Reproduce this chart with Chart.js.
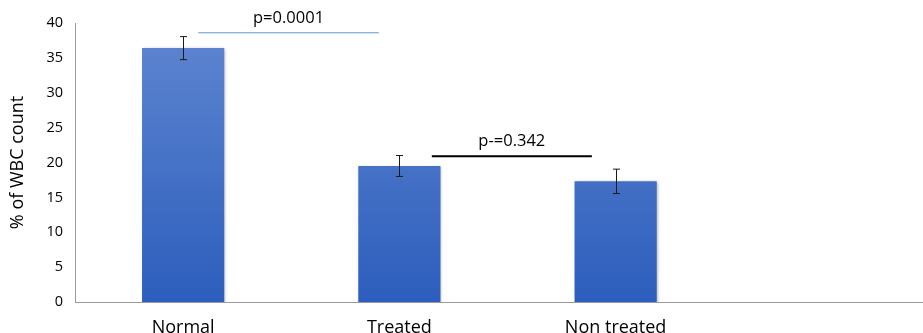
<!DOCTYPE html>
<html><head><meta charset="utf-8">
<script src="https://cdn.jsdelivr.net/npm/chart.js@4"></script>
<style>html,body{margin:0;padding:0;overflow:hidden;background:#fff;width:923px;height:333px}#wrap{width:940px;height:333px}</style>
</head><body><div id="wrap"><canvas id="c" width="940" height="333"></canvas></div>
<script>
const categories = ["Normal", "Treated", "Non treated", ""];
const values = [36.4, 19.5, 17.3, null];
const errors = [1.65, 1.5, 1.75, null];
const yTicks = [0, 5, 10, 15, 20, 25, 30, 35, 40];
const annotTexts = ["p=0.0001", "p-=0.342"];
const annotFrom = [0.07, 1.15];
const annotTo = [0.905, 1.89];
const annotLineY = [38.6, 20.9];
const annotTextY = [40.7, 23.0];
const annotColors = ["#5b9bd5", "#000000"];
const annotWidths = [1, 2];

const FONT = "'Open Sans', sans-serif";

const extras = {
  id: 'extras',
  beforeDatasetsDraw(chart) {
    const ctx = chart.ctx;
    ctx.save();
    ctx.shadowColor = 'rgba(0,0,0,0.35)';
    ctx.shadowBlur = 3;
    ctx.shadowOffsetX = 1;
    ctx.shadowOffsetY = 1;
  },
  afterDatasetsDraw(chart) {
    const ctx = chart.ctx;
    ctx.restore();
    const xs = chart.scales.x, ys = chart.scales.y;
    const meta = chart.getDatasetMeta(0);
    ctx.save();
    ctx.strokeStyle = '#1a1a1a';
    ctx.lineWidth = 1;
    values.forEach((v, i) => {
      if (v == null) return;
      const x = Math.round(meta.data[i].x) + 0.5;
      const t = ys.getPixelForValue(v + errors[i]);
      const b = ys.getPixelForValue(v - errors[i]);
      ctx.beginPath();
      ctx.moveTo(x, t); ctx.lineTo(x, b);
      ctx.moveTo(x - 3.5, t); ctx.lineTo(x + 3.5, t);
      ctx.moveTo(x - 3.5, b); ctx.lineTo(x + 3.5, b);
      ctx.stroke();
    });
    annotTexts.forEach((txt, i) => {
      const x1 = xs.getPixelForValue(annotFrom[i]);
      const x2 = xs.getPixelForValue(annotTo[i]);
      const y = ys.getPixelForValue(annotLineY[i]);
      ctx.strokeStyle = annotColors[i];
      ctx.lineWidth = annotWidths[i];
      ctx.beginPath();
      ctx.moveTo(x1, y); ctx.lineTo(x2, y);
      ctx.stroke();
      ctx.fillStyle = '#000';
      ctx.font = '16.5px ' + FONT;
      ctx.textAlign = 'center';
      ctx.textBaseline = 'middle';
      ctx.fillText(txt, (x1 + x2) / 2, ys.getPixelForValue(annotTextY[i]));
    });
    ctx.restore();
  }
};

new Chart(document.getElementById('c'), {
  type: 'bar',
  data: {
    labels: categories,
    datasets: [{
      data: values,
      backgroundColor: (c) => {
        const a = c.chart.chartArea;
        if (!a) return '#4472c4';
        const g = c.chart.ctx.createLinearGradient(0, a.top, 0, a.bottom);
        g.addColorStop(0, '#5f86d0');
        g.addColorStop(1, '#2d5ebd');
        return g;
      },
      borderWidth: 0,
      barPercentage: 0.38,
      categoryPercentage: 1
    }]
  },
  options: {
    responsive: false,
    animation: false,
    layout: { padding: { top: 23, right: 0, left: 0, bottom: 0 } },
    plugins: { legend: { display: false }, tooltip: { enabled: false } },
    scales: {
      x: {
        grid: { display: false },
        border: { display: true, color: '#9a9a9a', width: 1 },
        ticks: { color: '#000', font: { size: 18, family: FONT }, padding: 7, maxRotation: 0 },
        afterFit(s) { s.height = 31; }
      },
      y: {
        min: 0, max: 40,
        afterBuildTicks(s) { s.ticks = yTicks.map(v => ({ value: v })); },
        grid: { display: false, drawTicks: false },
        border: { display: true, color: '#9a9a9a', width: 1 },
        ticks: { color: '#000', font: { size: 14.5, family: FONT }, padding: 12 },
        title: { display: true, text: '% of WBC count', color: '#000', font: { size: 18, family: FONT }, padding: { top: 7, bottom: 0 } },
        afterFit(s) { s.width = 75; }
      }
    }
  },
  plugins: [extras]
});
</script></body></html>
